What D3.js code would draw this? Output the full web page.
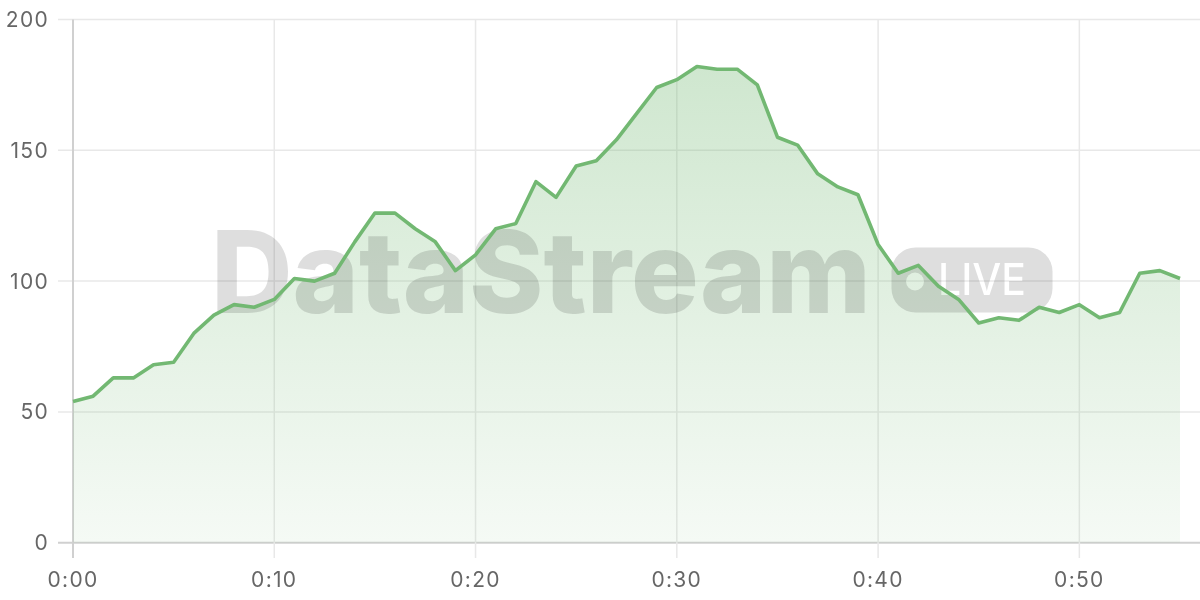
<!DOCTYPE html>
<html><head><meta charset="utf-8">
<script src="https://cdn.jsdelivr.net/npm/d3@7"></script>
<style>
html,body{margin:0;padding:0;background:#fff;}
svg{display:block;font-family:Inter,"Noto Sans",sans-serif;}
</style></head>
<body>
<svg id="chart" width="1200" height="600"></svg>
<script>
// minutes since start
const minutes = d3.range(0, 56);
const values = [54,56,63,63,68,69,80,87,91,90,93,101,100,103,115,126,126,120,115,104,
                110,120,122,138,132,144,146,154,164,174,177,182,181,181,175,155,152,141,136,133,
                114,103,106,98,93,84,86,85,90,88,91,86,88,103,104,101];
const yTicks = [0,50,100,150,200];
const xTicks = [0,10,20,30,40,50];
const xTickLabels = ["0:00","0:10","0:20","0:30","0:40","0:50"];

const data = minutes.map((m,i)=>({m, v: values[i]}));
const svg = d3.select("#chart");
const W = 1200;
const x = d3.scaleLinear().domain([0,55]).range([73,1180]);
const y = d3.scaleLinear().domain([0,200]).range([542.7,19.5]);
const lineColor = "#72b872";

const defs = svg.append("defs");
const grad = defs.append("linearGradient").attr("id","areaGrad")
  .attr("gradientUnits","userSpaceOnUse").attr("x1",0).attr("x2",0)
  .attr("y1",y(182)).attr("y2",y(0));
grad.append("stop").attr("offset","0%").attr("stop-color",lineColor).attr("stop-opacity",0.34);
grad.append("stop").attr("offset","100%").attr("stop-color",lineColor).attr("stop-opacity",0.07);

// horizontal grid
svg.append("g").selectAll("line").data(yTicks).join("line")
  .attr("x1",58).attr("x2",W).attr("y1",d=>y(d)).attr("y2",d=>y(d))
  .attr("stroke",d=>d===0?"#d0d0d0":"#e8e8e8").attr("stroke-width",d=>d===0?2:1.5);
// vertical grid
svg.append("g").selectAll("line").data(xTicks).join("line")
  .attr("x1",d=>x(d)).attr("x2",d=>x(d)).attr("y1",y(200)).attr("y2",558)
  .attr("stroke",d=>d===0?"#d0d0d0":"#e8e8e8").attr("stroke-width",d=>d===0?2:1.5);

// area
svg.append("path").datum(data)
  .attr("d", d3.area().x(d=>x(d.m)).y0(y(0)).y1(d=>y(d.v)))
  .attr("fill","url(#areaGrad)");

// watermark
const wm = svg.append("g").attr("opacity",0.13);
wm.append("text").attr("x",211).attr("y",313)
  .attr("font-family","Inter,'Noto Sans',sans-serif").attr("font-weight",800)
  .attr("font-size",114).attr("textLength",660).attr("lengthAdjust","spacingAndGlyphs")
  .attr("fill","#000").text("DataStream");
const badgeMask = defs.append("mask").attr("id","badgeMask");
badgeMask.append("rect").attr("x",0).attr("y",0).attr("width",W).attr("height",600).attr("fill","#fff");
badgeMask.append("circle").attr("cx",915).attr("cy",281.5).attr("r",9).attr("fill","#000");
badgeMask.append("text").attr("x",938).attr("y",295).attr("font-family","Inter,'Noto Sans',sans-serif")
  .attr("font-weight",500).attr("font-size",44).attr("textLength",88).attr("lengthAdjust","spacingAndGlyphs")
  .attr("fill","#000").text("LIVE");
wm.append("rect").attr("x",891.5).attr("y",247.5).attr("width",161).attr("height",65)
  .attr("rx",24).attr("fill","#000").attr("mask","url(#badgeMask)");

// line
svg.append("path").datum(data)
  .attr("d", d3.line().x(d=>x(d.m)).y(d=>y(d.v)))
  .attr("fill","none").attr("stroke",lineColor).attr("stroke-width",3.6)
  .attr("stroke-linejoin","round");

// axes labels
svg.append("g").selectAll("text").data(yTicks).join("text")
  .attr("x",49).attr("y",d=>y(d)).attr("dy","0.36em").attr("text-anchor","end")
  .attr("font-size",21).attr("letter-spacing",1.3).attr("fill","#666").text(d=>d);
svg.append("g").selectAll("text").data(xTicks).join("text")
  .attr("x",d=>x(d)).attr("y",587).attr("text-anchor","middle")
  .attr("font-size",21).attr("letter-spacing",1.3).attr("fill","#666").text((d,i)=>xTickLabels[i]);
</script>
</body></html>
